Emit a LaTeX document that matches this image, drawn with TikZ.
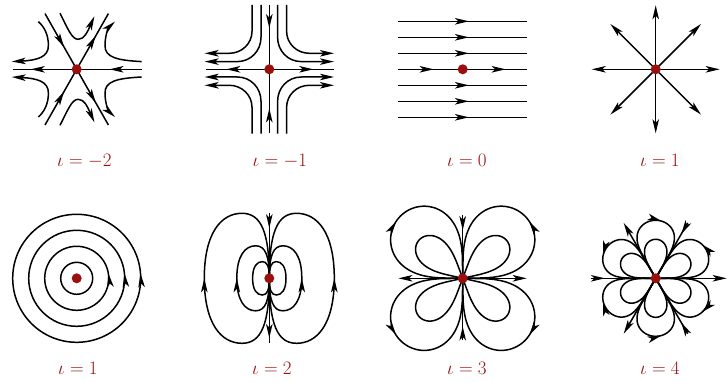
\documentclass[tikz,border=0pt]{standalone}
\usepackage{fix-cm}
\usepackage{amsmath}
\usepackage{tikz}
\usetikzlibrary{arrows.meta,decorations.markings}

\definecolor{idxred}{RGB}{155,15,15}

% petal: start angle, end angle, reach, exponent
\newcommand{\petal}[4]{(0,0) -- plot[domain=#1:#2,samples=90] (\x:{#3*(max(sin(180*(\x-(#1))/((#2)-(#1))),0.00001))^(#4)}) -- (0,0)}
% dipole loop: width (signed), height
\newcommand{\dipoleloop}[2]{(0,0) .. controls (0,{-0.7*#2}) and ({0.12*#1},{-#2}) .. ({0.42*#1},{-#2}) .. controls ({0.74*#1},{-#2}) and (#1,{-0.7*#2}) .. (#1,0) .. controls (#1,{0.7*#2}) and ({0.74*#1},{#2}) .. ({0.42*#1},{#2}) .. controls ({0.12*#1},{#2}) and (0,{0.7*#2}) .. (0,0)}

\begin{document}
\begin{tikzpicture}[x=1pt, y=1pt,
    >={Stealth[length=14pt,width=6.5pt,inset=3.5pt]},
    flow/.style={line width=1.5pt},
    arrowat/.style={postaction={decorate,decoration={markings,mark=at position #1 with {\arrow{>}}}}},
    dot/.style={circle, fill=idxred, inner sep=0pt, minimum size=10pt},
    lab/.style={anchor=base west, inner sep=0pt, text=idxred, font=\fontsize{19}{22}\selectfont}
  ]
  \useasboundingbox (0,0) rectangle (728,381);

  % index -2
  \begin{scope}[shift={(76.7,311.7)}]
    \draw[flow, arrowat=0.25, arrowat=0.86] (65,0) -- (-64,0);
    \draw[flow, arrowat=0.3, arrowat=0.8] (-31.7,-55.7) -- (31.7,55.7);
    \draw[flow, arrowat=0.3, arrowat=0.8] (-31.7,55.7) -- (31.7,-55.7);
    \foreach \s in {1,-1}{
      \begin{scope}[yscale=\s]
        \draw[flow,->] (-16.7,56) .. controls (-9,41) and (-5,30) .. (1.5,30) .. controls (8,30) and (11,38) .. (17.7,53);
        \draw[flow,->] (65,7.7) .. controls (40,9) and (28,12) .. (28.3,24) .. controls (28.3,34) and (32,42) .. (38.3,47.7);
        \draw[flow,->] (-38.3,47.7) .. controls (-32,42) and (-28.3,34) .. (-28.3,24) .. controls (-28,12) and (-40,9) .. (-65,7.7);
      \end{scope}
    }
    \node[dot] (c1) at (0,0) {};
  \end{scope}

  % index -1
  \begin{scope}[shift={(269.3,311.7)}]
    \draw[flow, arrowat=0.68] (0,0) -- (-63.3,0);
    \draw[flow, arrowat=0.68] (0,0) -- (64.7,0);
    \draw[flow, arrowat=0.36] (0,64.3) -- (0,0);
    \draw[flow, arrowat=0.39] (0,-64) -- (0,0);
    \foreach \sx in {1,-1}
      \foreach \sy in {1,-1}{
        \begin{scope}[xscale=\sx, yscale=\sy]
          \draw[flow,->] (8.3,64.3) -- (8.3,32) .. controls (8.3,18.5) and (18.5,7.7) .. (32,7.7) -- (64.7,7.7);
          \draw[flow,->] (17.3,64.3) -- (17.3,38) .. controls (17.3,25.6) and (27.6,16) .. (40,16) -- (64.7,16);
        \end{scope}
      }
    \node[dot] (c2) at (0,0) {};
  \end{scope}

  % index 0
  \begin{scope}[shift={(462.7,311.7)}]
    \foreach \y in {-48,-32,-16,16,32,48}
      \draw[flow, arrowat=0.55] (-64.3,\y) -- (64,\y);
    \draw[flow, arrowat=0.275, arrowat=0.836] (-64.3,0) -- (64,0);
    \node[dot] (c3) at (0,0) {};
  \end{scope}

  % index 1, source
  \begin{scope}[shift={(655.7,311.7)}]
    \foreach \a in {0,45,...,315}
      \draw[flow,->] (0,0) -- (\a:64);
    \node[dot] (c4) at (0,0) {};
  \end{scope}

  % index 1, centre
  \begin{scope}[shift={(76.7,102.7)}]
    \draw[flow] (0,0) circle[radius=16];
    \foreach \r/\p in {32/0.275,48/0.267,64/0.2625}
      \draw[flow, arrowat=\p] (0,-\r) arc[start angle=-90, end angle=270, radius=\r];
    \node[dot] (c5) at (0,0) {};
  \end{scope}

  % index 2
  \begin{scope}[shift={(269.3,102.7)}]
    \draw[flow, arrowat=0.115, arrowat=0.96] (0,65) -- (0,-65);
    \foreach \w/\h in {65/65,-65/65,32.5/32.5,-32.5/32.5}
      \draw[flow, arrowat=0.5] \dipoleloop{\w}{\h};
    \foreach \w in {16.7,-16.7}
      \draw[flow] \dipoleloop{\w}{16.7};
    \node[dot] (c6) at (0,0) {};
  \end{scope}

  % index 3
  \begin{scope}[shift={(462.7,102.7)}]
    \draw[flow,->] (0,0) -- (64,0);
    \draw[flow,->] (0,0) -- (-64.3,0);
    \draw[flow, arrowat=0.24] (0,63.3) -- (0,0);
    \draw[flow, arrowat=0.22] (0,-61.7) -- (0,0);
    \foreach \a/\b in {0/90,180/90,180/270,360/270}
      \draw[flow, arrowat=0.47] \petal{\a}{\b}{88}{0.4};
    \foreach \a/\b in {12/70,110/168,192/250,290/348}
      \draw[flow] \petal{\a}{\b}{58}{0.35};
    \node[dot] (c7) at (0,0) {};
  \end{scope}

  % index 4
  \begin{scope}[shift={(655.7,102.7)}]
    \draw[flow, arrowat=0.105, ->] (-65,0) -- (71,0);
    \draw[flow, arrowat=0.1, ->] (32,55.4) -- (-32,-55.4);
    \draw[flow, arrowat=0.1, ->] (32,-55.4) -- (-32,55.4);
    \foreach \a/\b in {120/60,0/60,0/-60,240/300,240/180,120/180}{
      \draw[flow, arrowat=0.54] \petal{\a}{\b}{58}{0.2};
      \draw[flow] \petal{\a}{\b}{39}{0.3};
    }
    \node[dot] (c8) at (0,0) {};
  \end{scope}

  \node[lab] (l1) at (57,214.3) {$\iota = -2$};
  \node[lab] (l2) at (252.5,214.3) {$\iota = -1$};
  \node[lab] (l3) at (447,214.3) {$\iota = 0$};
  \node[lab] (l4) at (640,214.3) {$\iota = 1$};
  \node[lab] (l5) at (58,6.5) {$\iota = 1$};
  \node[lab] (l6) at (252,6.5) {$\iota = 2$};
  \node[lab] (l7) at (447,6.5) {$\iota = 3$};
  \node[lab] (l8) at (640,6.5) {$\iota = 4$};
\end{tikzpicture}
\end{document}
